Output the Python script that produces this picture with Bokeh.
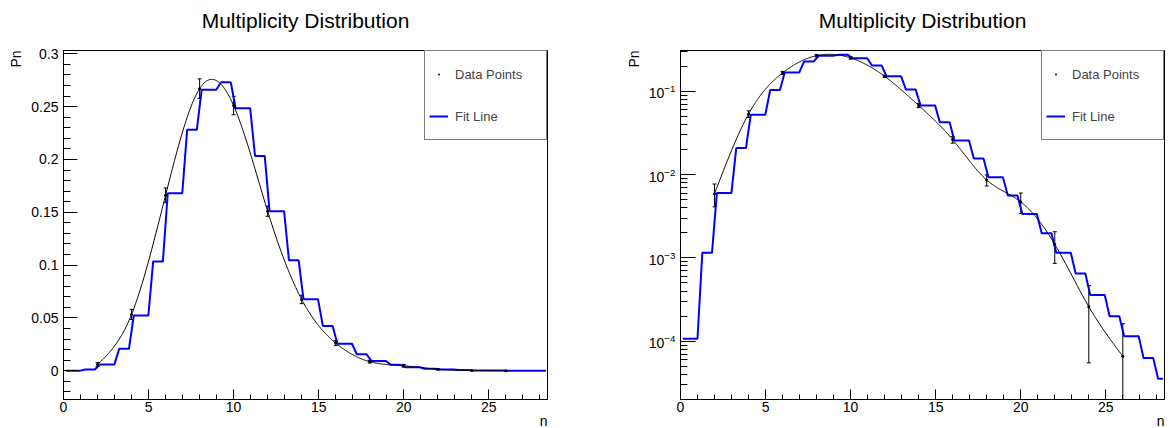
import numpy as np
from bokeh.plotting import figure
from bokeh.layouts import row
from bokeh.models import (Range1d, Whisker, TeeHead, ColumnDataSource, Legend, Title,
                          LegendItem, SingleIntervalTicker, CustomJSTickFormatter, LogTicker)
from bokeh.embed import file_html
from bokeh.resources import INLINE

# ---------------- data ----------------
TITLE = "Multiplicity Distribution"
X_LABEL = "n"
Y_LABEL = "Pn"
LEGEND_POINTS = "Data Points"
LEGEND_LINE = "Fit Line"

n_points = [2, 4, 6, 8, 10, 12, 14, 16, 18, 20, 22, 24, 26]
pn_points = [0.0059, 0.0533, 0.166, 0.267, 0.251, 0.151, 0.0675, 0.0262,
             0.0086, 0.0047, 0.00146, 0.00026, 0.000066]
pn_errors = [0.0018, 0.0048, 0.007, 0.0093, 0.0087, 0.0048, 0.004, 0.0024,
             0.0013, 0.0013, 0.0006, 0.000205, 0.000096]

bin_n = list(range(29))
bin_pn = [1.07e-4, 1.15e-3, 0.0060, 0.0208, 0.0523, 0.1035, 0.168, 0.228,
          0.266, 0.273, 0.2485, 0.2033, 0.151, 0.1045, 0.0676, 0.0423, 0.0256,
          0.0156, 0.0093, 0.0056, 0.00337, 0.00197, 0.00115, 6.5e-4, 3.6e-4,
          2.0e-4, 1.15e-4, 6.3e-5, 3.55e-5]

X_RANGE = (0, 28.45)
Y_RANGE_LIN = (-0.0272, 0.3031)
Y_RANGE_LOG = (2.0e-5, 0.308)
N_SAMPLES = 100
SAMPLE_SPAN = 28.5

FONT = "Liberation Sans"


def natural_spline(x, y, xs):
    x = np.asarray(x, float)
    y = np.asarray(y, float)
    n = len(x)
    h = np.diff(x)
    A = np.zeros((n, n))
    rhs = np.zeros(n)
    A[0, 0] = 1
    A[-1, -1] = 1
    for i in range(1, n - 1):
        A[i, i - 1] = h[i - 1]
        A[i, i] = 2 * (h[i - 1] + h[i])
        A[i, i + 1] = h[i]
        rhs[i] = 3 * ((y[i + 1] - y[i]) / h[i] - (y[i] - y[i - 1]) / h[i - 1])
    c = np.linalg.solve(A, rhs)
    b = (y[1:] - y[:-1]) / h - h * (2 * c[:-1] + c[1:]) / 3
    d = (c[1:] - c[:-1]) / (3 * h)
    idx = np.clip(np.searchsorted(x, xs) - 1, 0, n - 2)
    dx = xs - x[idx]
    return y[idx] + b[idx] * dx + c[idx] * dx ** 2 + d[idx] * dx ** 3


# step function sampled like a drawn function
xs_step = (np.arange(N_SAMPLES) + 0.5) * SAMPLE_SPAN / N_SAMPLES
ys_step = np.array(bin_pn)[np.floor(xs_step).astype(int)]

xs_curve = np.linspace(n_points[0], n_points[-1], 600)


def make_panel(log, width, border_left, border_right, ylabel_standoff):
    p = figure(width=width, height=428,
               x_range=Range1d(*X_RANGE),
               y_range=Range1d(*(Y_RANGE_LOG if log else Y_RANGE_LIN)),
               y_axis_type="log" if log else "linear",
               output_backend="svg", toolbar_location=None,
               min_border_left=border_left, min_border_right=border_right,
               min_border_top=50, min_border_bottom=29)
    p.background_fill_color = "white"
    p.border_fill_color = "white"
    p.outline_line_color = "black"
    p.outline_line_width = 1
    p.xgrid.visible = False
    p.ygrid.visible = False

    # spacer between frame and title, then the title itself
    p.add_layout(Title(text=" ", text_font_size="1px", standoff=13), "above")
    p.add_layout(Title(text=TITLE, align="center", text_font=FONT,
                       text_font_size="21px", text_font_style="normal",
                       text_color="black", standoff=6), "above")

    p.add_layout(Title(text=Y_LABEL, align="right", text_font=FONT,
                       text_font_size="14px", text_font_style="normal",
                       text_color="black", standoff=ylabel_standoff), "left")
    p.add_layout(Title(text=X_LABEL, align="right", text_font=FONT,
                       text_font_size="14px", text_font_style="normal",
                       text_color="black", standoff=-8), "below")

    # axes styling
    p.xaxis.ticker = SingleIntervalTicker(interval=5, num_minor_ticks=5)
    p.xaxis.major_tick_in = 10
    p.xaxis.major_tick_out = 0
    p.xaxis.minor_tick_in = 5
    p.xaxis.minor_tick_out = 0
    p.xaxis.major_label_standoff = 2
    if log:
        p.yaxis.ticker = LogTicker(num_minor_ticks=10)
        p.yaxis.major_tick_in = 15
    else:
        p.yaxis.ticker = SingleIntervalTicker(interval=0.05, num_minor_ticks=5)
        p.yaxis.formatter = CustomJSTickFormatter(
            code="return (Math.round(tick*1000)/1000).toString();")
        p.yaxis.major_tick_in = 14
    p.yaxis.major_tick_out = 0
    p.yaxis.minor_tick_in = 7
    p.yaxis.minor_tick_out = 0
    p.yaxis.major_label_standoff = 5
    for ax in (p.xaxis, p.yaxis):
        ax.axis_line_color = "black"
        ax.major_tick_line_color = "black"
        ax.minor_tick_line_color = "black"
        ax.major_label_text_font = FONT
        ax.major_label_text_font_size = "14px"
        ax.major_label_text_color = "black"

    # blue step line
    blue = p.line(xs_step, ys_step, line_color="#0000ff", line_width=2)

    # black smooth curve through the points
    if log:
        yc = 10 ** natural_spline(n_points, np.log10(pn_points), xs_curve)
    else:
        yc = natural_spline(n_points, pn_points, xs_curve)
    p.line(xs_curve, yc, line_color="black", line_width=1)

    # error bars
    pts = np.array(pn_points)
    errs = np.array(pn_errors)
    lower = pts - errs
    if log:
        lower = np.maximum(lower, 1e-9)
    src = ColumnDataSource(dict(n=n_points, up=pts + errs, lo=lower))
    p.add_layout(Whisker(base="n", upper="up", lower="lo", source=src,
                         line_color="black", line_width=1,
                         upper_head=TeeHead(size=4, line_color="black", line_width=1),
                         lower_head=TeeHead(size=4, line_color="black", line_width=1)))
    dots = p.scatter(n_points, pn_points, marker="dot", size=12,
                     line_color="black", fill_color="black")

    legend = Legend(items=[LegendItem(label=LEGEND_POINTS, renderers=[dots]),
                           LegendItem(label=LEGEND_LINE, renderers=[blue])],
                    location="top_right", margin=0, padding=4, spacing=4,
                    label_height=38, glyph_height=38, glyph_width=19,
                    label_width=87, label_standoff=7,
                    label_text_font=FONT, label_text_font_size="13px",
                    border_line_color="black", border_line_width=1,
                    background_fill_color="white", background_fill_alpha=1)
    p.add_layout(legend)
    return p


left = make_panel(False, 594, 63, 47, 10)
right = make_panel(True, 579, 86, 9, 8)
layout = row(left, right)

open("out.html", "w").write(file_html(layout, INLINE))
